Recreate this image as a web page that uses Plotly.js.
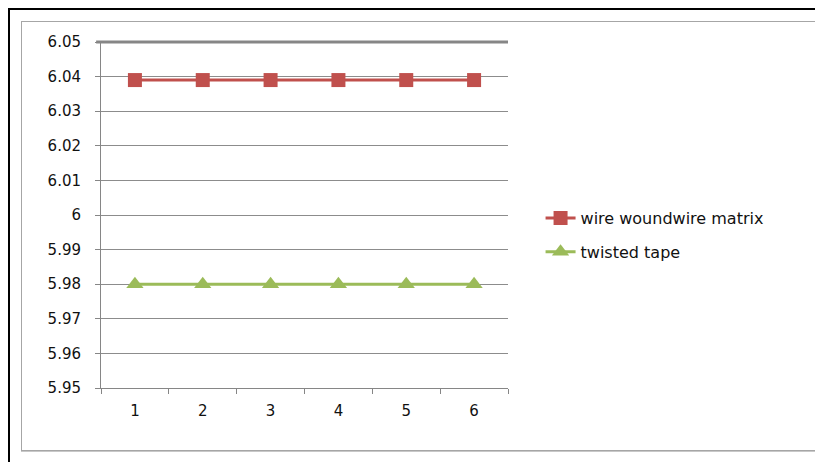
<!DOCTYPE html>
<html>
<head>
<meta charset="utf-8">
<script src="https://cdn.plot.ly/plotly-3.0.1.min.js"></script>
<style>
  html, body { margin: 0; padding: 0; background: #fff; }
  #wrap { position: relative; width: 815px; height: 462px; overflow: hidden; }
  #outer { position: absolute; left: 8px; top: 8px; width: 820px; height: 470px;
           border-left: 2px solid #000; border-top: 2px solid #000; box-sizing: border-box; }
  #frame { position: absolute; left: 21px; top: 21px; width: 820px; height: 430px;
           border: 1px solid #a6a6a6; box-shadow: 0 1px 0 #c8c8c8; box-sizing: border-box; }
  #chart { position: absolute; left: 0; top: 0; width: 815px; height: 462px; }
</style>
</head>
<body>
<div id="wrap">
  <div id="outer"></div>
  <div id="frame"></div>
  <div id="chart"></div>
</div>
<script>
// Run numbers along the category axis
const runs = ['1', '2', '3', '4', '5', '6'];
// Measured values for each insert type
const wireMatrix = [6.039, 6.039, 6.039, 6.039, 6.039, 6.039];
const twistedTape = [5.98, 5.98, 5.98, 5.98, 5.98, 5.98];
// Y-axis tick values and labels
const yTicks = [5.95, 5.96, 5.97, 5.98, 5.99, 6.00, 6.01, 6.02, 6.03, 6.04, 6.05];
const yLabels = ['5.95', '5.96', '5.97', '5.98', '5.99', '6', '6.01', '6.02', '6.03', '6.04', '6.05'];

const axisFont = { family: 'DejaVu Sans, Verdana, sans-serif', size: 15, color: '#111111' };

const traces = [
  {
    x: runs, y: wireMatrix, name: 'wire woundwire matrix', legendgroup: 'a',
    type: 'scatter', mode: 'lines+markers',
    line: { color: '#C0504D', width: 3 },
    marker: { symbol: 'square', size: 14, color: '#C0504D' }
  },
  {
    x: runs, y: twistedTape, name: 'twisted tape', legendgroup: 'b',
    type: 'scatter', mode: 'lines+markers',
    line: { color: '#9BBB59', width: 3 },
    marker: { symbol: 'triangle-up', size: 15, color: '#9BBB59' }
  }
];

const layout = {
  width: 815, height: 462,
  margin: { l: 101, r: 307, t: 42, b: 74, pad: 0 },
  paper_bgcolor: 'rgba(0,0,0,0)',
  plot_bgcolor: 'rgba(0,0,0,0)',
  showlegend: true,
  legend: {
    x: 1.08, y: 0.442, xanchor: 'left', yanchor: 'middle',
    traceorder: 'grouped', tracegroupgap: 10,
    font: { family: 'DejaVu Sans, Verdana, sans-serif', size: 16, color: '#111111' },
    bgcolor: 'rgba(0,0,0,0)'
  },
  xaxis: {
    type: 'category', range: [-0.5, 5.5],
    showgrid: false, zeroline: false,
    showline: true, linecolor: '#868686', linewidth: 1,
    ticks: 'outside', tickson: 'boundaries', ticklen: 5, tickcolor: '#868686',
    tickfont: axisFont, ticklabelstandoff: 9, fixedrange: true
  },
  yaxis: {
    range: [5.95, 6.05], tickvals: yTicks, ticktext: yLabels,
    showgrid: true, gridcolor: '#8c8c8c', gridwidth: 1, zeroline: false,
    showline: true, linecolor: '#868686', linewidth: 1,
    ticks: 'outside', ticklen: 5, tickcolor: '#868686',
    tickfont: axisFont, ticklabelstandoff: 11, fixedrange: true
  },
  shapes: [
    // heavy rule along the top of the plot area
    { type: 'line', xref: 'paper', yref: 'paper', x0: -0.012, x1: 1, y0: 1, y1: 1,
      line: { color: '#868686', width: 3 }, layer: 'above' }
  ]
};

Plotly.newPlot('chart', traces, layout, { displayModeBar: false, staticPlot: true });
</script>
</body>
</html>
